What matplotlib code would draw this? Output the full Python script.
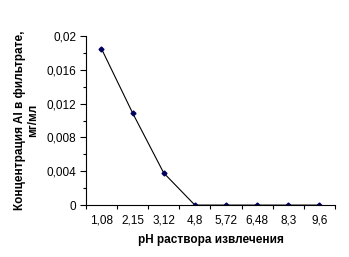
import matplotlib
matplotlib.use("Agg")
import matplotlib.pyplot as plt
from matplotlib.ticker import MultipleLocator, FixedLocator

categories = ["1,08", "2,15", "3,12", "4,8", "5,72", "6,48", "8,3", "9,6"]
values = [0.0185, 0.0109, 0.0038, 0.0, 0.0, 0.0, 0.0, 0.0]
yticks = [0, 0.004, 0.008, 0.012, 0.016, 0.02]
ytick_labels = ["0", "0,004", "0,008", "0,012", "0,016", "0,02"]

plt.rcParams['font.family'] = ['Liberation Sans', 'DejaVu Sans']

fig = plt.figure(figsize=(3.49, 2.57), dpi=100)
ax = fig.add_axes([0.246, 0.202, 0.714, 0.658])
x = list(range(len(categories)))
ax.plot(x, values, color='black', lw=0.8, marker='D', markersize=2.5,
        markerfacecolor='#000060', markeredgecolor='#000060')
ax.set_xlim(-0.5, len(categories) - 0.5)
ax.set_ylim(0, 0.02)
ax.set_yticks(yticks)
ax.set_yticklabels(ytick_labels)
ax.yaxis.set_minor_locator(MultipleLocator(0.002))
ax.set_xticks(x)
ax.set_xticklabels(categories)
ax.xaxis.set_minor_locator(FixedLocator([i - 0.5 for i in range(len(categories) + 1)]))
ax.tick_params(axis='x', which='major', length=0, pad=7, labelsize=8.5)
ax.tick_params(axis='x', which='minor', length=3, direction='out', width=0.8)
ax.tick_params(axis='y', which='major', length=4, direction='out', labelsize=8.5, width=0.8, pad=3)
ax.tick_params(axis='y', which='minor', length=2, direction='out', width=0.8)
for s in ['top', 'right']:
    ax.spines[s].set_visible(False)
for s in ['left', 'bottom']:
    ax.spines[s].set_linewidth(0.8)
ax.set_xlabel("pH раствора извлечения", fontsize=8.5, fontweight='bold', labelpad=5)
ax.set_ylabel("Концентрация Al в фильтрате,\nмг/мл", fontsize=8.5, fontweight='bold', labelpad=5)
fig.savefig("out.png", dpi=100)
